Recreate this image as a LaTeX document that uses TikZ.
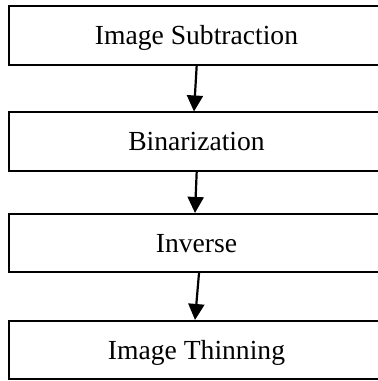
\documentclass[tikz,border=0pt]{standalone}
\usepackage{fontspec}
\setmainfont{Liberation Serif}
\usetikzlibrary{arrows.meta}
\begin{document}
\begin{tikzpicture}[x=1pt,y=-1pt,
  stage/.style={draw=black, line width=1.6pt, minimum width=375pt, minimum height=58.5pt,
    inner sep=0pt, font=\fontsize{27.6}{32}\selectfont, text height=24.3pt, text depth=6pt},
  flow/.style={line width=2.2pt, -{Triangle[width=16pt,length=16pt]}}]
\useasboundingbox (0,0) rectangle (378,381);
\clip (0,0) rectangle (378,381);
\node[stage] (s1) at (196.5,35.5) {Image Subtraction};
\node[stage] (s2) at (196.5,141.5) {Binarization};
\node[stage] (s3) at (196.5,243) {Inverse};
\node[stage] (s4) at (196.5,350) {Image Thinning};
\draw[flow] ([xshift=0.2pt]s1.south) -- ([xshift=-2.5pt]s2.north);
\draw[flow] ([xshift=0.2pt]s2.south) -- ([xshift=-1.5pt]s3.north);
\draw[flow] ([xshift=2.5pt]s3.south) -- ([xshift=-1.5pt]s4.north);
\end{tikzpicture}
\end{document}
